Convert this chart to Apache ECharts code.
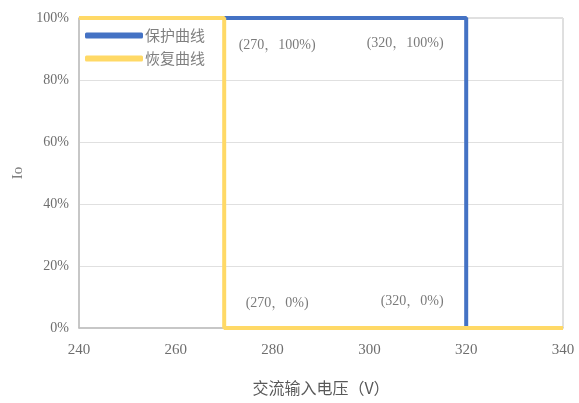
<!DOCTYPE html>
<html>
<head>
<meta charset="utf-8">
<script src="https://cdn.jsdelivr.net/npm/echarts@6/dist/echarts.min.js"></script>
<style>html,body{margin:0;padding:0;background:#fff}#c{width:579px;height:403px}</style>
</head>
<body>
<div id="c"></div>
<script>
var seriesNames = ['保护曲线', '恢复曲线'];
var protectX = [240, 320, 320, 340];
var protectY = [100, 100, 0, 0];
var recoverX = [240, 270, 270, 340];
var recoverY = [100, 100, 0, 0];
var noteX = [270, 320, 270, 320];
var noteY = [100, 100, 0, 0];
var xTicks = [240, 260, 280, 300, 320, 340];
var yTicks = [0, 20, 40, 60, 80, 100];

function pairs(xs, ys) { return xs.map(function (x, i) { return [x, ys[i]]; }); }
var noteOffsets = [[53, 27], [-61, 25], [53, -25], [-54, -27]];
var noteData = pairs(noteX, noteY).map(function (p, i) {
  return { value: p, label: { offset: noteOffsets[i] } };
});

var serif = '"Liberation Serif","Noto Serif CJK SC","Noto Sans CJK SC",serif';
var chart = echarts.init(document.getElementById('c'));
chart.setOption({
  animation: false,
  grid: { left: 79, right: 16, top: 18, bottom: 75, show: true, borderColor: '#c0c0c0', borderWidth: 1 },
  legend: {
    orient: 'vertical', left: 80, top: 23, itemGap: 8,
    icon: 'roundRect', itemWidth: 58, itemHeight: 6,
    data: seriesNames,
    textStyle: { color: '#7f7f7f', fontSize: 15, padding: [0, 0, 0, -3], fontFamily: '"Noto Sans CJK SC",sans-serif' }
  },
  xAxis: {
    type: 'value', min: xTicks[0], max: xTicks[xTicks.length - 1], interval: 20,
    name: '交流输入电压（V）', nameLocation: 'middle', nameGap: 52,
    nameTextStyle: { color: '#595959', fontSize: 16, fontFamily: '"Noto Sans CJK SC",sans-serif' },
    axisLine: { show: true, lineStyle: { color: '#bfbfbf', width: 1.5 } },
    axisTick: { show: false },
    splitLine: { show: false },
    axisLabel: { color: '#6e6e6e', fontSize: 15, fontFamily: serif, margin: 15 }
  },
  yAxis: {
    type: 'value', min: yTicks[0], max: yTicks[yTicks.length - 1], interval: 20,
    name: 'Io', nameLocation: 'middle', nameGap: 44, nameRotate: 90,
    nameTextStyle: { color: '#7f7f7f', fontSize: 15, fontFamily: serif },
    axisLine: { show: true, lineStyle: { color: '#bfbfbf', width: 1.5 } },
    axisTick: { show: false },
    splitLine: { show: true, lineStyle: { color: '#e0e0e0', width: 1 } },
    axisLabel: { color: '#6e6e6e', fontSize: 14, fontFamily: serif, margin: 10, formatter: '{value}%' }
  },
  series: [
    {
      name: seriesNames[0], type: 'line', data: pairs(protectX, protectY),
      showSymbol: false, symbol: 'none', color: '#4472C4',
      lineStyle: { width: 4, color: '#4472C4' }, z: 2
    },
    {
      name: seriesNames[1], type: 'line', data: pairs(recoverX, recoverY),
      showSymbol: false, symbol: 'none', color: '#FFD966',
      lineStyle: { width: 4, color: '#FFD966' }, z: 3
    },
    {
      type: 'scatter', data: noteData, symbolSize: 0, silent: true, z: 4,
      label: {
        show: true, position: 'inside', color: '#595959', fontSize: 14, fontFamily: serif,
        formatter: function (p) { return '(' + p.value[0] + '，' + p.value[1] + '%)'; }
      }
    }
  ]
});
</script>
</body>
</html>
